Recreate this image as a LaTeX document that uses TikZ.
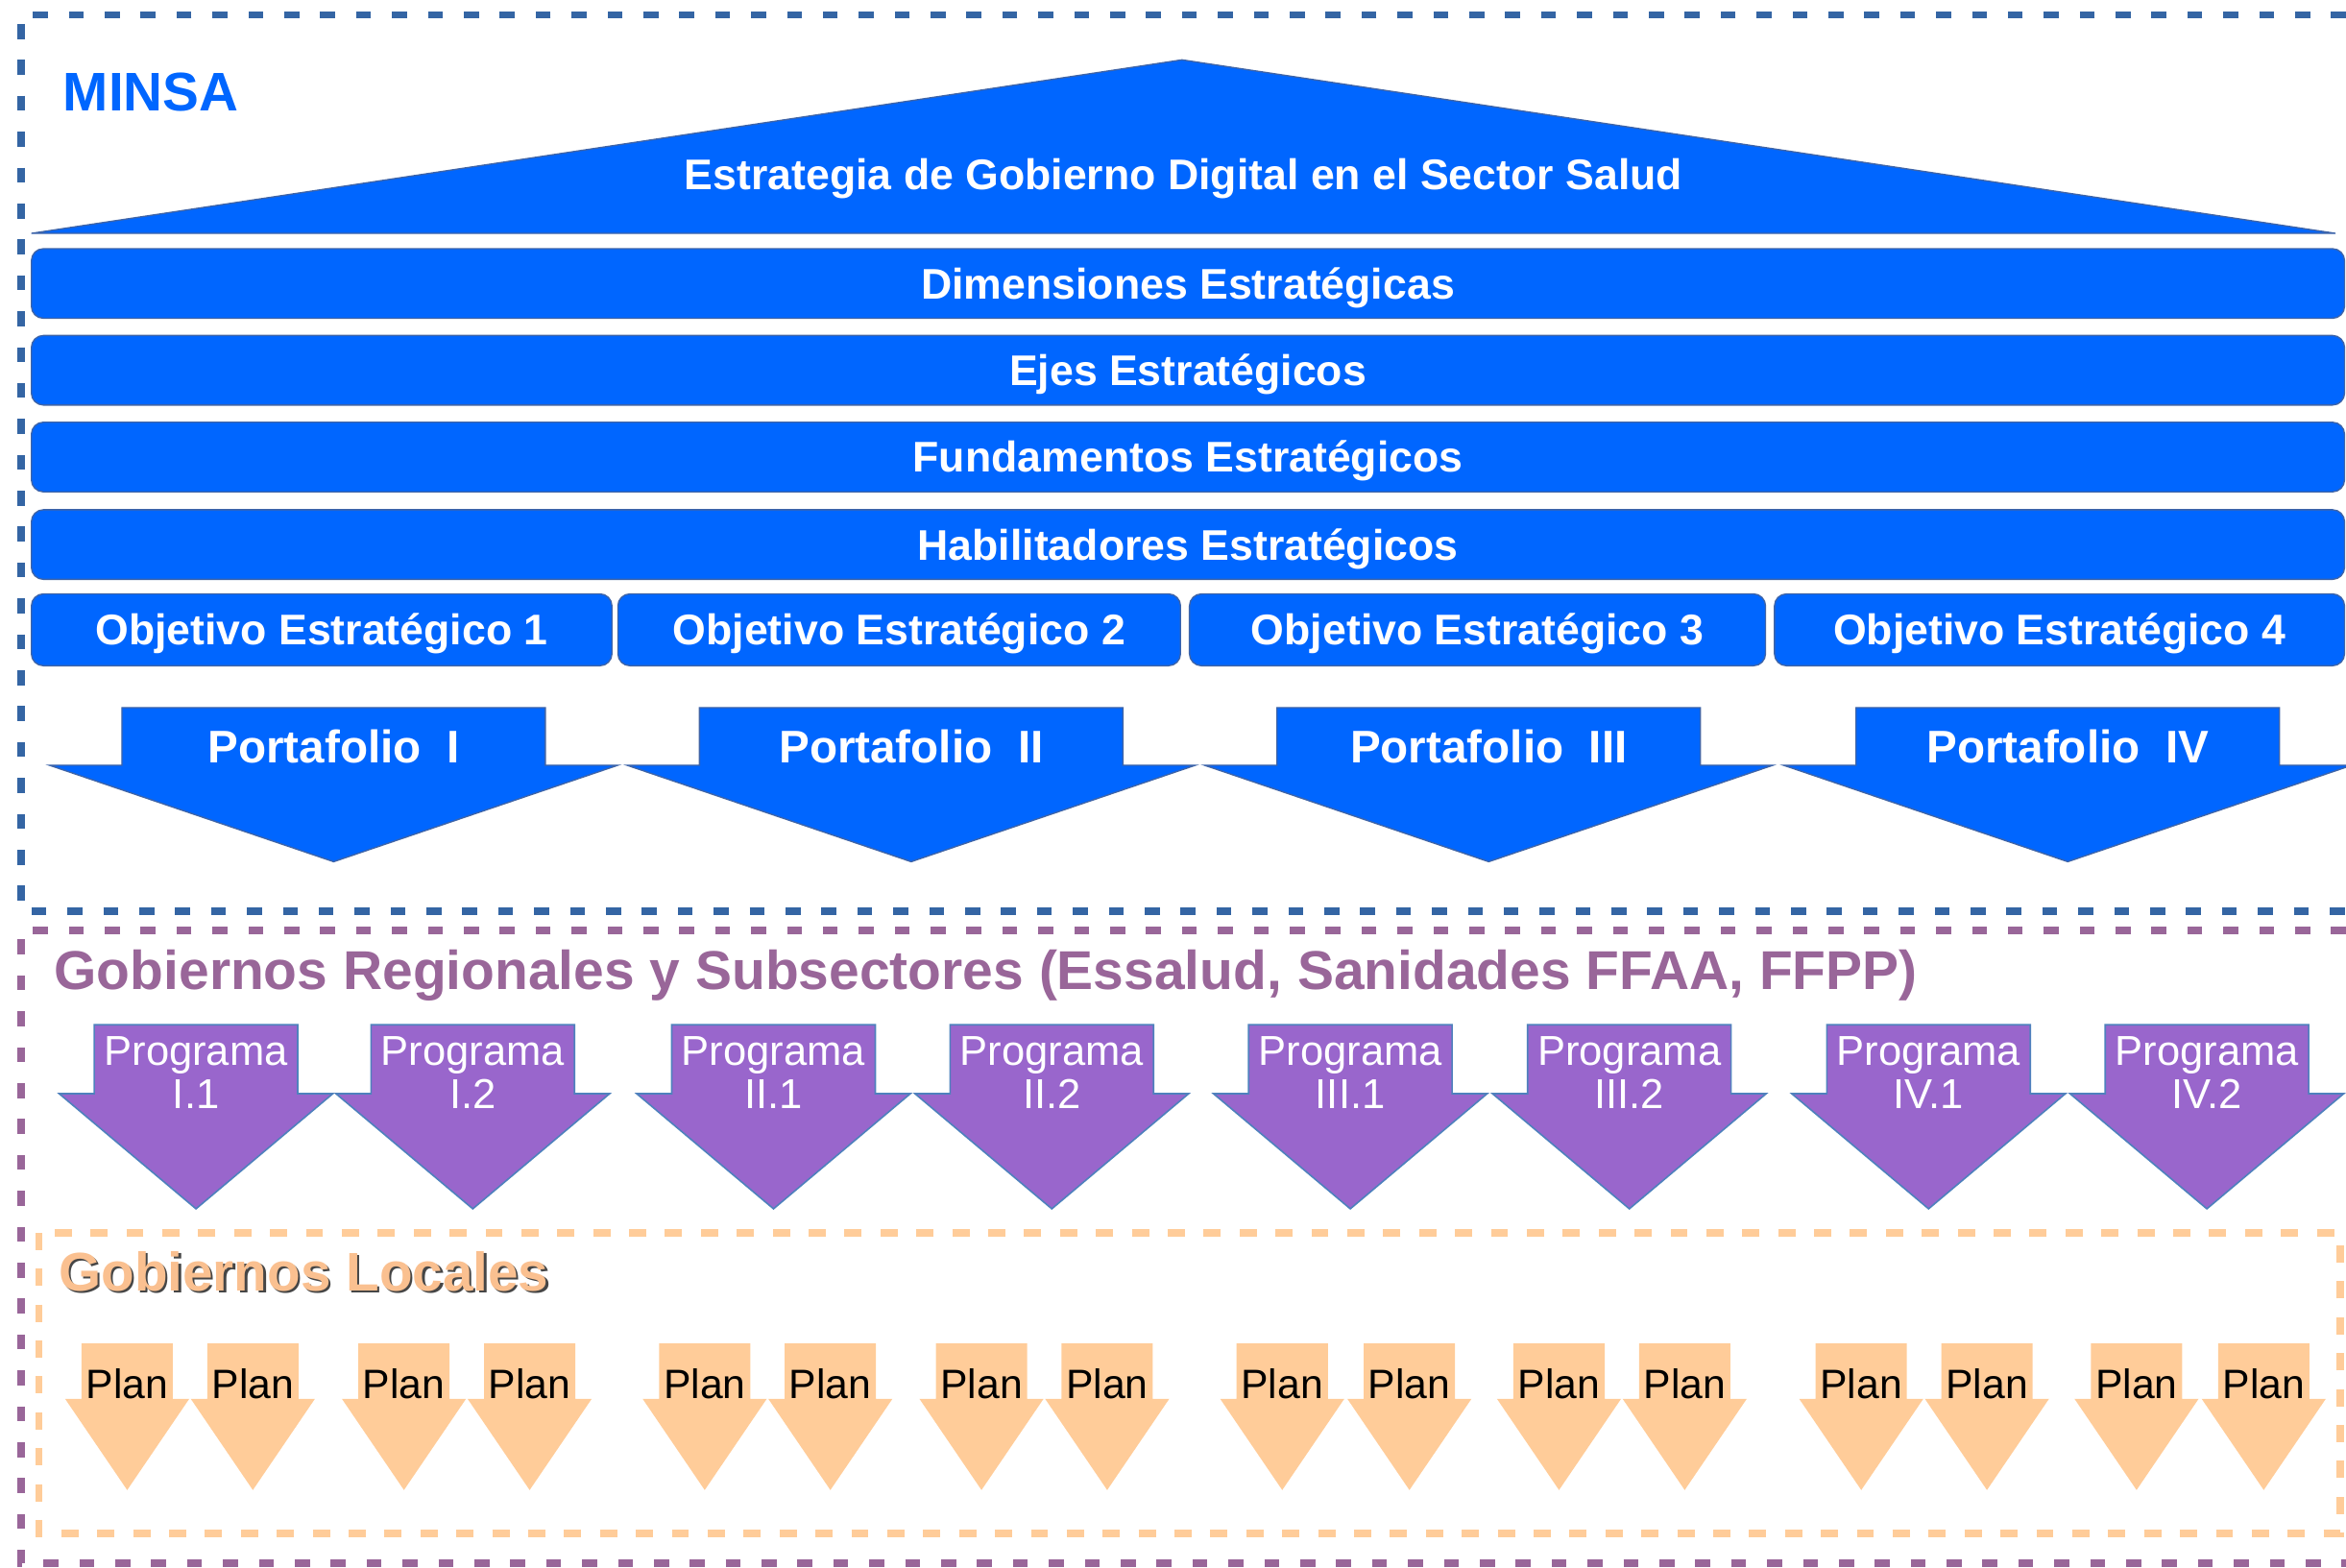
\documentclass[tikz,border=0pt]{standalone}
\usepackage{fontspec}
\setmainfont{Liberation Sans}

\definecolor{minsablue}{RGB}{0,102,255}
\definecolor{edgeblue}{RGB}{62,100,168}
\definecolor{frameblue}{RGB}{52,101,164}
\definecolor{framepurple}{RGB}{153,102,153}
\definecolor{progpurple}{RGB}{153,102,204}
\definecolor{progedge}{RGB}{79,129,189}
\definecolor{planorange}{RGB}{255,204,153}
\definecolor{localorange}{RGB}{250,192,144}
\definecolor{shadowgray}{RGB}{70,70,70}

\tikzset{
  minsaframe/.style={draw=frameblue, line width=1mm, dash pattern=on 2mm off 2.8mm},
  regframe/.style={draw=framepurple, line width=1mm, dash pattern=on 2mm off 2.8mm},
  localframe/.style={draw=planorange, line width=1mm, dash pattern=on 2.3mm off 2.5mm},
  bartext/.style={text=white, font=\fontsize{16.3}{19}\selectfont\bfseries, inner sep=0pt},
  widebar/.style={bartext, rectangle, rounded corners=1.6mm, fill=minsablue, draw=edgeblue, line width=0.5pt,
    minimum width=309.2mm, minimum height=9.3mm, text height=11.7pt, text depth=0pt},
  objbox/.style={widebar, minimum height=9.6mm},
  blueshape/.style={fill=minsablue, draw=edgeblue, line width=0.5pt},
  minsatitle/.style={text=minsablue, font=\fontsize{20.7}{24}\selectfont\bfseries, inner sep=0pt},
  regtitle/.style={text=framepurple, font=\fontsize{20.8}{24}\selectfont\bfseries, inner sep=0pt},
  localtitle/.style={text=localorange, font=\fontsize{20.7}{24}\selectfont\bfseries, inner sep=0pt},
  pics/portarrow/.style={code={
    \filldraw[blueshape] (-141.5,0) -- (141.5,0) -- (141.5,38.5) -- (190,38.5) -- (0,103)
      -- (-190,38.5) -- (-141.5,38.5) -- cycle;
    \node[text=white, font=\fontsize{17.4}{20}\selectfont\bfseries, inner sep=0pt, anchor=base] (-txt) at (0,37) {#1};
  }},
  pics/progarrow/.style={code={
    \filldraw[fill=progpurple, draw=progedge, line width=0.6pt] (-68,0) -- (68,0) -- (68,46) -- (91.5,46) -- (0,123)
      -- (-91.5,46) -- (-68,46) -- (-68,0) -- cycle;
    \node[text=white, font=\fontsize{15.9}{16.5}\selectfont, inner sep=0pt, align=center, anchor=base] (-txt) at (0,56) {Programa\\#1};
  }},
  pics/planarrow/.style={code={
    \fill[planorange] (-30.5,0) -- (30.5,0) -- (30.5,37) -- (41.5,37) -- (0,98) -- (-41.5,37) -- (-30.5,37) -- cycle;
    \node[text=black, font=\fontsize{15.6}{18}\selectfont, inner sep=0pt, anchor=base] (-txt) at (0,37) {Plan};
  }}
}

\begin{document}
\begin{tikzpicture}[x=0.2mm, y=-0.2mm]

	\useasboundingbox (0,0) rectangle (1568,1048);
	\clip (0,0) rectangle (1568,1048);

	\draw[minsaframe] (1640,10) -- (14,10) -- (14,609) -- (1640,609);
	\draw[regframe] (1640,622) -- (14,622) -- (14,1045) -- (1640,1045);
	\draw[localframe] (26,824) rectangle (1564,1025);

	\node[minsatitle, anchor=base west] (minsa) at (42,74) {MINSA};

	\filldraw[blueshape] (21,156) -- (790,40) -- (1561,156) -- cycle;
	\node[bartext, anchor=base] (estrategia) at (791,126.5) {Estrategia de Gobierno Digital en el Sector Salud};

	\node[widebar] (dim)  at (794,189.5) {Dimensiones Estratégicas};
	\node[widebar] (ejes) at (794,247.5) {Ejes Estratégicos};
	\node[widebar] (fund) at (794,305.5) {Fundamentos Estratégicos};
	\node[widebar] (hab)  at (794,364)   {Habilitadores Estratégicos};

	\node[objbox, minimum width=77.6mm] (obj1) at (215,421)    {Objetivo Estratégico 1};
	\node[objbox, minimum width=75.2mm] (obj2) at (601,421)    {Objetivo Estratégico 2};
	\node[objbox, minimum width=77mm]   (obj3) at (987.5,421)  {Objetivo Estratégico 3};
	\node[objbox, minimum width=76.2mm] (obj4) at (1376.5,421) {Objetivo Estratégico 4};

	\pic (port1) at (223,473)  {portarrow={Portafolio~~I}};
	\pic (port2) at (609,473)  {portarrow={Portafolio~~II}};
	\pic (port3) at (995,473)  {portarrow={Portafolio~~III}};
	\pic (port4) at (1382,473) {portarrow={Portafolio~~IV}};

	\node[regtitle, anchor=base west] (regional) at (36,661.5) {Gobiernos Regionales y Subsectores (Essalud, Sanidades FFAA, FFPP)};

	\pic (prog11) at (131,685)   {progarrow={I.1}};
	\pic (prog12) at (316,685)   {progarrow={I.2}};
	\pic (prog21) at (517,685)   {progarrow={II.1}};
	\pic (prog22) at (703,685)   {progarrow={II.2}};
	\pic (prog31) at (902.5,685) {progarrow={III.1}};
	\pic (prog32) at (1089,685)  {progarrow={III.2}};
	\pic (prog41) at (1289,685)  {progarrow={IV.1}};
	\pic (prog42) at (1475,685)  {progarrow={IV.2}};

	\node[localtitle, text=shadowgray, anchor=base west] (localshadow) at (40.5,864.2) {Gobiernos Locales};
	\node[localtitle, anchor=base west] (local) at (39,862.7) {Gobiernos Locales};

	\pic (plan1)  at (85,898)   {planarrow};
	\pic (plan2)  at (169,898)  {planarrow};
	\pic (plan3)  at (270,898)  {planarrow};
	\pic (plan4)  at (354,898)  {planarrow};
	\pic (plan5)  at (471,898)  {planarrow};
	\pic (plan6)  at (555,898)  {planarrow};
	\pic (plan7)  at (656,898)  {planarrow};
	\pic (plan8)  at (740,898)  {planarrow};
	\pic (plan9)  at (857,898)  {planarrow};
	\pic (plan10) at (942,898)  {planarrow};
	\pic (plan11) at (1042,898) {planarrow};
	\pic (plan12) at (1126,898) {planarrow};
	\pic (plan13) at (1244,898) {planarrow};
	\pic (plan14) at (1328,898) {planarrow};
	\pic (plan15) at (1428,898) {planarrow};
	\pic (plan16) at (1513,898) {planarrow};

\end{tikzpicture}
\end{document}
